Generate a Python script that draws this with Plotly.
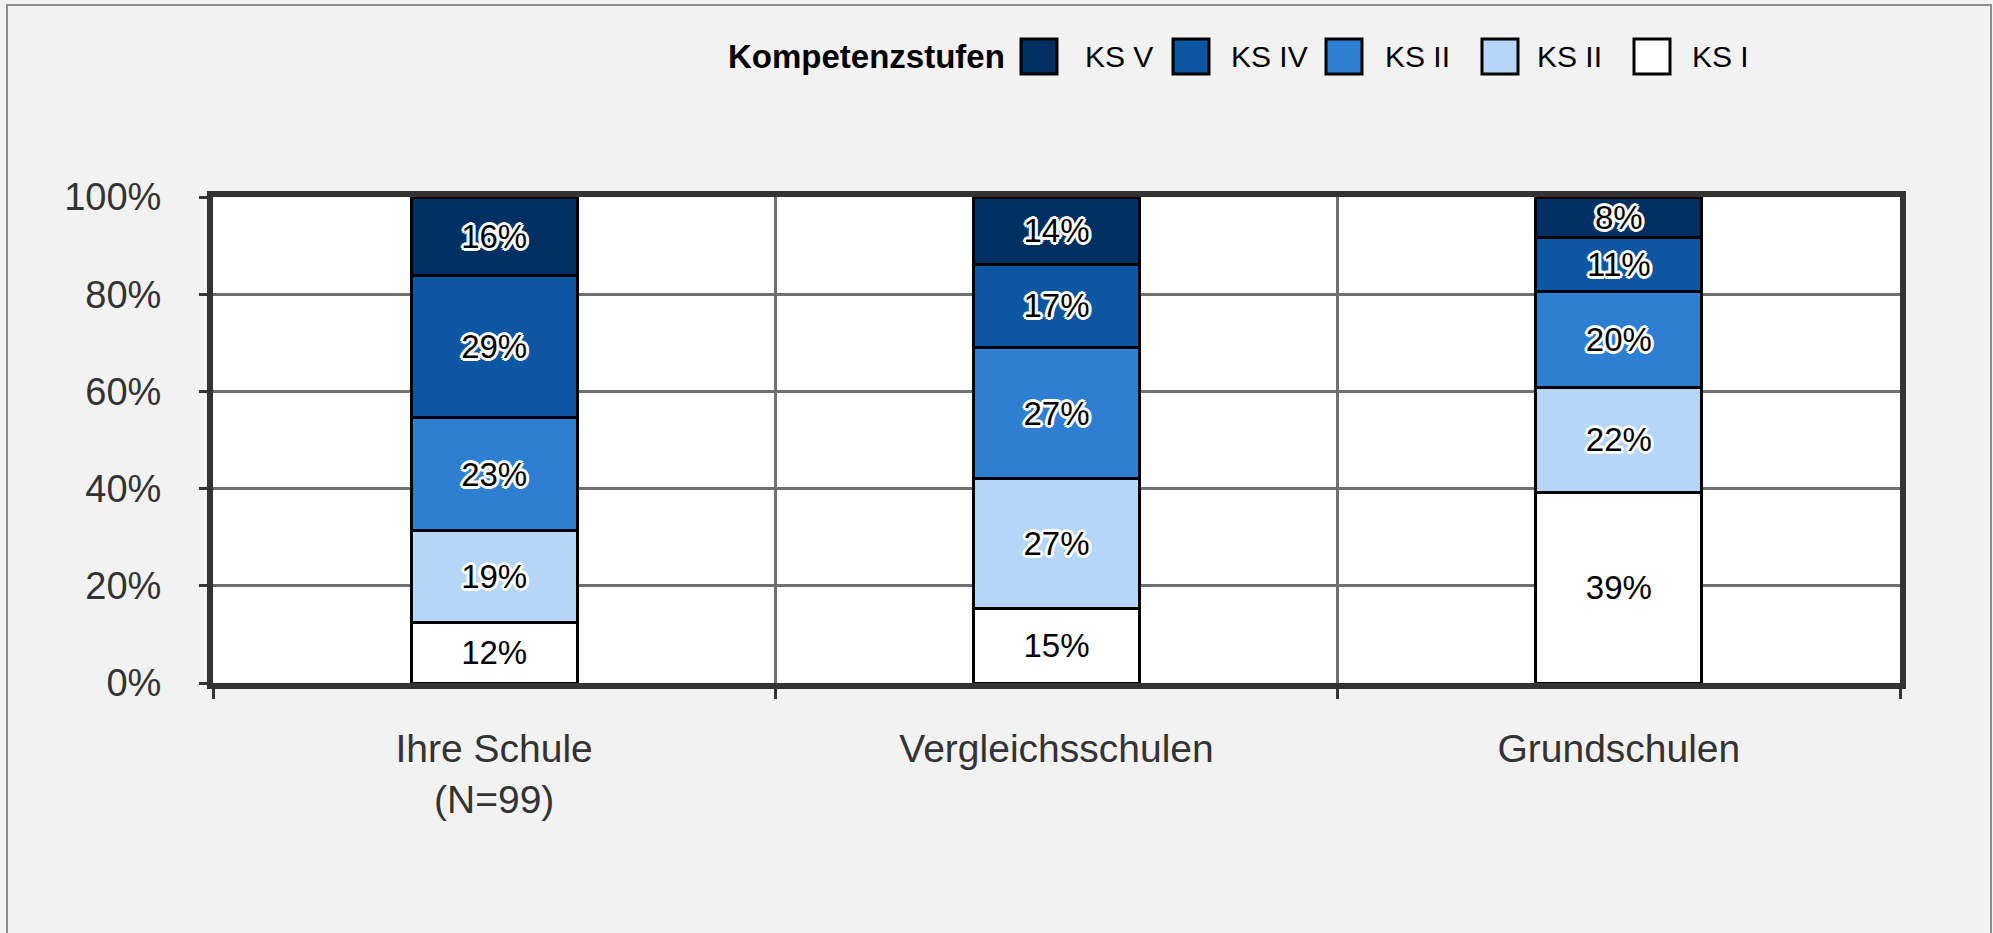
import plotly.graph_objects as go

categories = ["Ihre Schule<br>(N=99)", "Vergleichsschulen", "Grundschulen"]
series_names = ["KS I", "KS II", "KS II", "KS IV", "KS V"]
ks1 = [12.4, 15.4, 39.3]
ks2_light = [19.0, 26.6, 21.6]
ks2 = [23.2, 27.1, 19.6]
ks4 = [29.2, 17.0, 11.1]
ks5 = [16.2, 13.9, 8.4]
series_values = [ks1, ks2_light, ks2, ks4, ks5]
colors = ["#ffffff", "#b5d6f7", "#2e7fd2", "#0d56a3", "#002f63"]
y_ticks = [0, 20, 40, 60, 80, 100]
y_tick_labels = [f"{v}%" for v in y_ticks]
legend_title = "Kompetenzstufen"

W, H = 1993, 933
L, R, T, B = 213, 93, 197, 250
PW, PH = W - L - R, H - T - B

def px(x):
    return (x - L) / PW

def py(y):
    return (H - B - y) / PH

FONT = "Liberation Sans, Arial, sans-serif"
outline = ", ".join(f"{dx}px {dy}px 0 #ffffff" for dx, dy in
                    [(3, 0), (-3, 0), (0, 3), (0, -3), (2, 2), (-2, -2), (2, -2), (-2, 2)])

fig = go.Figure()
for name, vals, col in zip(series_names, series_values, colors):
    fig.add_trace(go.Bar(
        x=categories, y=vals, name=name,
        marker=dict(color=col, line=dict(color="#000000", width=3)),
        texttemplate="%{y:.0f}%", textposition="inside", insidetextanchor="middle",
        textangle=0, constraintext="none",
        textfont=dict(family=FONT, size=33, color="#000000", shadow=outline),
        showlegend=False, hoverinfo="skip",
    ))

fig.update_layout(
    width=W, height=H, barmode="stack", bargap=0.705,
    margin=dict(l=L, r=R, t=T, b=B, autoexpand=False),
    paper_bgcolor="#f2f2f2", plot_bgcolor="#ffffff",
    font=dict(family=FONT, color="#333333"),
)
fig.update_xaxes(
    tickson="boundaries", showgrid=True, gridcolor="#707070", gridwidth=3,
    showline=True, linecolor="#333333", linewidth=6, mirror=True,
    ticks="outside", ticklen=10, tickwidth=3, tickcolor="#333333",
    tickfont=dict(size=39, color="#333333"), ticklabelstandoff=26,
)
fig.update_yaxes(
    range=[0, 100], tickmode="array", tickvals=y_ticks, ticktext=y_tick_labels,
    showgrid=True, gridcolor="#707070", gridwidth=3, zeroline=False,
    showline=True, linecolor="#333333", linewidth=6, mirror=True,
    ticks="outside", ticklen=8, tickwidth=3, tickcolor="#333333",
    tickfont=dict(size=38, color="#333333"), ticklabelstandoff=30,
)

shapes = []
annotations = []
# figure border
shapes.append(dict(type="rect", xref="paper", yref="paper",
                   x0=px(7), x1=px(1991), y0=py(5), y1=py(940),
                   line=dict(color="#8c8c8c", width=2), layer="below"))
# manual legend
box_x = [1021, 1173, 1326, 1482, 1634]
text_x = [1083, 1229, 1383, 1535, 1690]
leg_order = list(range(len(series_names)))[::-1]
for i, k in enumerate(leg_order):
    shapes.append(dict(type="rect", xref="paper", yref="paper",
                       x0=px(box_x[i]), x1=px(box_x[i] + 36), y0=py(39), y1=py(74),
                       fillcolor=colors[k], line=dict(color="#000000", width=3)))
    annotations.append(dict(xref="paper", yref="paper", x=px(text_x[i]), y=py(56),
                            text=series_names[k], showarrow=False, xanchor="left", yanchor="middle",
                            font=dict(family=FONT, size=30, color="#000000")))
annotations.append(dict(xref="paper", yref="paper", x=px(1007), y=py(56),
                        text=f"<b>{legend_title}</b>", showarrow=False, xanchor="right", yanchor="middle",
                        font=dict(family=FONT, size=33, color="#000000")))
fig.update_layout(shapes=shapes, annotations=annotations)

fig.write_html("out.html", config={"displayModeBar": False},
               post_script="document.body.style.margin='0';")
